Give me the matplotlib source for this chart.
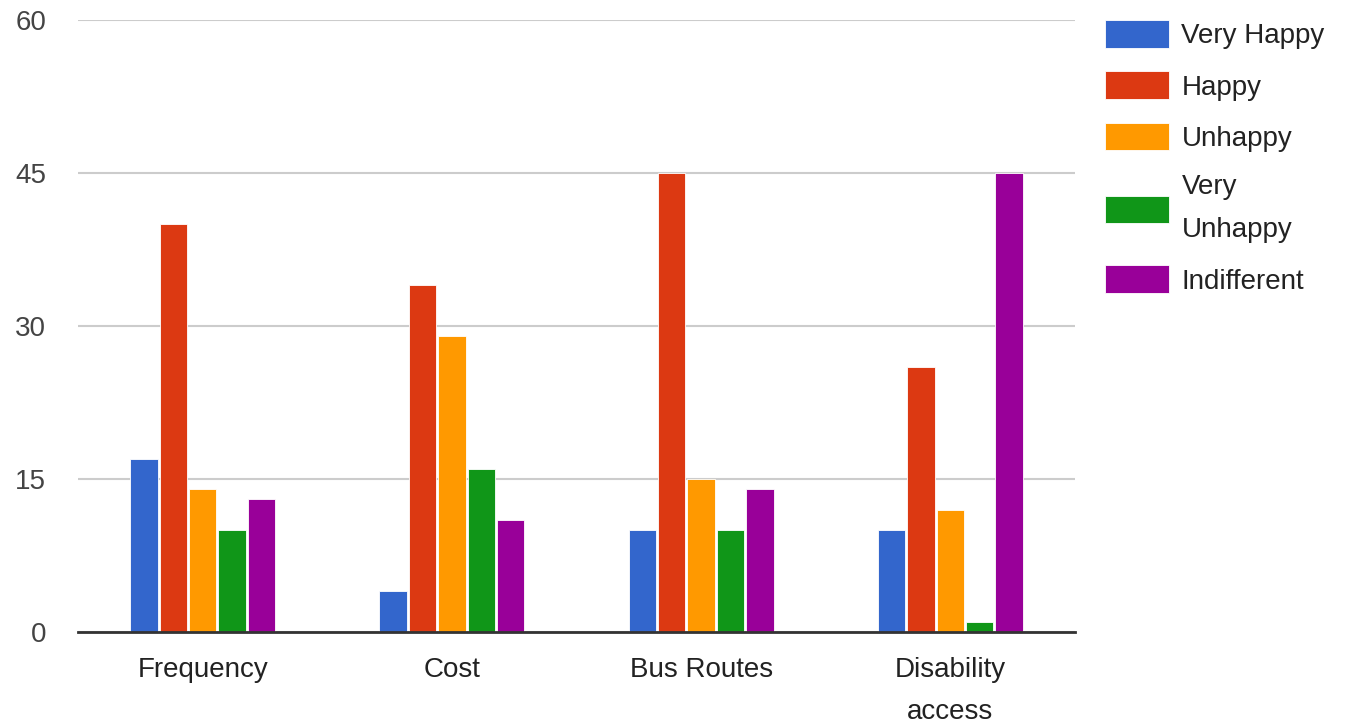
import numpy as np
import matplotlib
matplotlib.use("Agg")
import matplotlib.pyplot as plt

categories = ["Frequency", "Cost", "Bus Routes", "Disability\naccess"]
series = ["Very Happy", "Happy", "Unhappy", "Very\nUnhappy", "Indifferent"]
very_happy = [17, 4, 10, 10]
happy = [40, 34, 45, 26]
unhappy = [14, 29, 15, 12]
very_unhappy = [10, 16, 10, 1]
indifferent = [13, 11, 14, 45]
colors = ["#3366cc", "#dc3912", "#ff9900", "#109618", "#990099"]
yticks = [0, 15, 30, 45, 60]

plt.rcParams['font.family'] = ['Liberation Sans', 'DejaVu Sans']

fig = plt.figure(figsize=(13.67, 7.26), dpi=100)
ax = fig.add_axes([78 / 1367, 94 / 726, 997 / 1367, 612 / 726])

values = [very_happy, happy, unhappy, very_unhappy, indifferent]
x = np.arange(len(categories))
pitch = 0.118
width = 0.11
for i, (vals, name, col) in enumerate(zip(values, series, colors)):
    ax.bar(x + (i - 2) * pitch, vals, width, color=col, label=name,
           edgecolor="white", linewidth=0.6, zorder=3)

ax.set_xlim(-0.5, 3.5)
ax.set_ylim(0, 60)
ax.set_yticks(yticks)
ax.set_xticks(x)
ax.set_xticklabels(categories, fontsize=20, color="#222222", linespacing=1.8)
ax.tick_params(axis="y", labelsize=20, labelcolor="#444444", length=0, pad=23)
ax.tick_params(axis="x", length=0, pad=18)
ax.grid(axis="y", color="#cccccc", linewidth=1.5, zorder=0)
for s in ["top", "right", "left"]:
    ax.spines[s].set_visible(False)
ax.spines["bottom"].set_color("#333333")
ax.spines["bottom"].set_linewidth(2)
ax.spines["bottom"].set_zorder(4)

leg = ax.legend(loc="upper left", bbox_to_anchor=(1105 / 1367, 1 - 20 / 726),
                bbox_transform=fig.transFigure, frameon=False, fontsize=20,
                handlelength=2.3, handleheight=1.15, handletextpad=0.45,
                labelspacing=0.8, borderpad=0, borderaxespad=0)
for t in leg.get_texts():
    t.set_color("#222222")
    t.set_linespacing(1.85)

fig.savefig("out.png", dpi=100)
